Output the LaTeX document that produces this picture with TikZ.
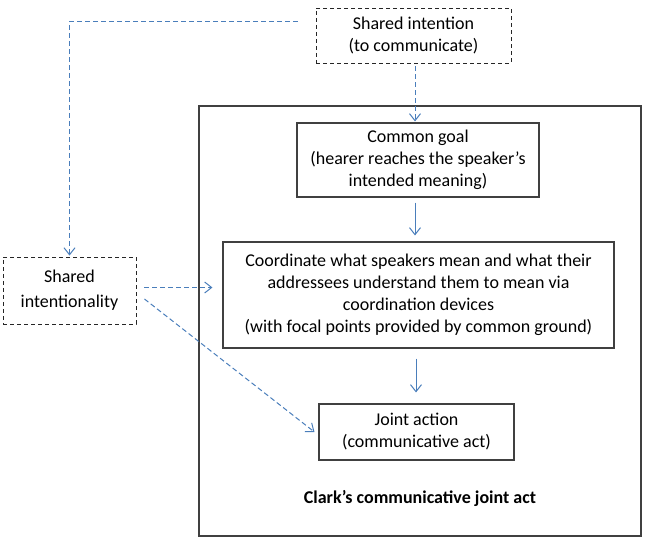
\documentclass[tikz,border=0pt]{standalone}
\usepackage{fontspec}
\setmainfont{Carlito}
\usetikzlibrary{arrows.meta}
\definecolor{conn}{RGB}{74,126,187}
\definecolor{frame}{RGB}{64,64,64}
\tikzset{
  solidbox/.style={draw=frame, line width=1.1pt, align=center, inner sep=0pt,
    font=\fontsize{18}{22}\selectfont, text=black},
  dashbox/.style={draw=black!85, line width=0.9pt, dash pattern=on 4pt off 3pt,
    align=center, inner sep=0pt, font=\fontsize{18}{22}\selectfont, text=black},
  link/.style={draw=conn, line width=1pt,
    -{Straight Barb[length=7pt,width=11pt,line width=1pt]}},
  dlink/.style={link, dash pattern=on 5pt off 3pt},
}
\begin{document}
\begin{tikzpicture}[x=1pt,y=-1pt]
\useasboundingbox (0,0) rectangle (645,537);
% outer frame
\node[draw=frame, line width=1.1pt, minimum width=442pt, minimum height=430pt, inner sep=0pt]
  (outer) at (420,321) {};
\node[dashbox, minimum width=195pt, minimum height=55pt] (si) at (413.5,35.5)
  {Shared intention\\(to communicate)};
\node[dashbox, minimum width=133pt, minimum height=67pt] (sity) at (69.5,290.5)
  {Shared\\[3pt]intentionality};
\node[solidbox, minimum width=242pt, minimum height=74pt] (cg) at (418,160)
  {Common goal\\(hearer reaches the speaker’s\\intended meaning)};
\node[solidbox, minimum width=391pt, minimum height=106pt] (co) at (418.5,295)
  {Coordinate what speakers mean and what their\\addressees understand them to mean via\\coordination devices\\(with focal points provided by common ground)};
\node[solidbox, minimum width=195pt, minimum height=56pt] (ja) at (416.5,432)
  {Joint action\\(communicative act)};
\node[font=\fontsize{18}{22}\selectfont\bfseries, inner sep=0pt] (clark) at (420,498)
  {Clark’s communicative joint act};
% connectors
\draw[dlink, shorten <=3pt, shorten >=1pt] ([xshift=1.5pt]si.south) -- ([xshift=1.5pt]si.south |- cg.north);
\draw[dlink, shorten <=18pt, shorten >=1pt] ([yshift=14pt]si.west) -| (sity.north);
\draw[link, shorten <=5pt, shorten >=6pt] ([xshift=-3pt]cg.south) -- ([xshift=-3pt]cg.south |- co.north);
\draw[link, shorten <=10pt, shorten >=11pt] ([xshift=-0.5pt]ja.north |- co.south) -- ([xshift=-0.5pt]ja.north);
\draw[dlink, shorten <=8pt, shorten >=10pt] ([yshift=3pt]sity.east) -- ([yshift=3pt]sity.east -| co.west);
\draw[dlink] ([xshift=8pt,yshift=-8.5pt]sity.east) -- ([xshift=-4pt]ja.west);
\end{tikzpicture}
\end{document}
